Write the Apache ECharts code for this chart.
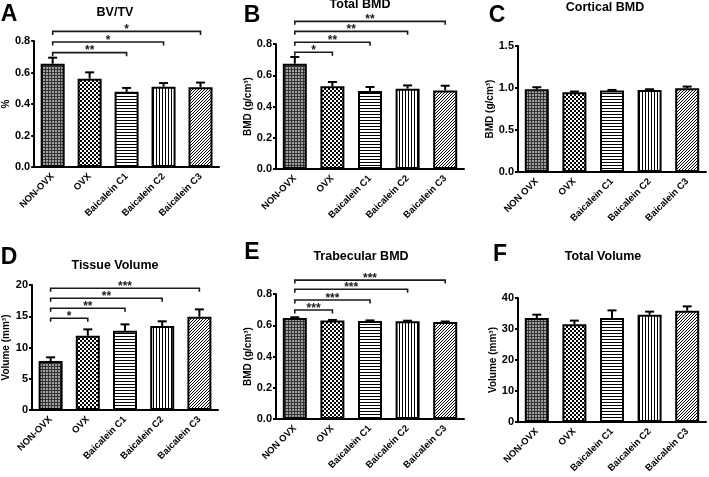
<!DOCTYPE html>
<html>
<head>
<meta charset="utf-8">
<script src="https://cdn.jsdelivr.net/npm/echarts@6/dist/echarts.min.js"></script>
<style>
    html, body { margin: 0; padding: 0; background: #fff; }
    #main { width: 709px; height: 477px; }
</style>
</head>
<body>
<div id="main"></div>
<script>
// groups
var groupsDash = ['NON-OVX', 'OVX', 'Baicalein C1', 'Baicalein C2', 'Baicalein C3']
var groupsSpace = ['NON OVX', 'OVX', 'Baicalein C1', 'Baicalein C2', 'Baicalein C3']

// A BV/TV
var bvtvMean = [0.656, 0.561, 0.477, 0.510, 0.507]
var bvtvErr = [0.038, 0.040, 0.025, 0.023, 0.029]
var bvtvSig = [[2, 0.726, '**'], [3, 0.794, '*'], [4, 0.861, '*']]

// B Total BMD
var totalBmdMean = [0.674, 0.529, 0.500, 0.514, 0.503]
var totalBmdErr = [0.043, 0.028, 0.025, 0.021, 0.030]
var totalBmdSig = [[1, 0.747, '*'], [2, 0.811, '**'], [3, 0.881, '**'], [4, 0.945, '**']]

// C Cortical BMD
var corticalMean = [0.985, 0.950, 0.970, 0.977, 0.997]
var corticalErr = [0.024, 0.008, 0.007, 0.008, 0.020]

// D Tissue Volume
var tissueMean = [7.84, 11.89, 12.69, 13.44, 14.93]
var tissueErr = [0.59, 1.01, 1.01, 0.75, 1.17]
var tissueSig = [[1, 14.67, '*'], [2, 16.27, '**'], [3, 17.87, '**'], [4, 19.47, '***']]

// E Trabecular BMD
var trabMean = [0.646, 0.630, 0.628, 0.626, 0.621]
var trabErr = [0.005, 0.004, 0.003, 0.003, 0.003]
var trabSig = [[1, 0.698, '***'], [2, 0.762, '***'], [3, 0.830, '***'], [4, 0.889, '***']]

// F Total Volume
var totalVolMean = [33.55, 31.5, 33.55, 34.62, 35.9]
var totalVolErr = [1.07, 1.2, 2.45, 0.98, 1.4]

var FONT = '"Liberation Sans", Arial, sans-serif'

function makePattern(w, h, paint) {
    var c = document.createElement('canvas')
    c.width = w
    c.height = h
    var ctx = c.getContext('2d')
    ctx.fillStyle = '#fff'
    ctx.fillRect(0, 0, w, h)
    ctx.fillStyle = '#000'
    paint(ctx)
    return { image: c, repeat: 'repeat' }
}

var patterns = [
    makePattern(3, 3, function (ctx) {
        ctx.fillStyle = '#a0a0a0'
        ctx.fillRect(0, 0, 3, 3)
        ctx.fillStyle = '#333'
        ctx.fillRect(0, 0, 3, 1)
        ctx.fillRect(0, 0, 1, 3)
    }),
    makePattern(4, 4, function (ctx) {
        ctx.fillRect(0, 0, 2, 2)
        ctx.fillRect(2, 2, 2, 2)
    }),
    makePattern(4, 3, function (ctx) {
        ctx.fillRect(0, 0, 4, 1)
    }),
    makePattern(3, 4, function (ctx) {
        ctx.fillRect(0, 0, 1, 4)
    }),
    makePattern(3, 3, function (ctx) {
        ctx.fillRect(2, 0, 1, 1)
        ctx.fillRect(1, 1, 1, 1)
        ctx.fillRect(0, 2, 1, 1)
    })
]

var panels = [
    { grid: { left: 31, top: 41, width: 188, height: 126 }, max: 0.8, interval: 0.2, dec: 1,
      name: '%', gap: 22, cats: groupsDash, mean: bvtvMean, err: bvtvErr, sig: bvtvSig,
      title: 'BV/TV', tx: 115, ty: 13, letter: 'A', lx: 9, ly: 15 },
    { grid: { left: 276, top: 44, width: 188, height: 125 }, max: 0.8, interval: 0.2, dec: 1,
      name: 'BMD (g/cm³)', gap: 23, cats: groupsDash, mean: totalBmdMean, err: totalBmdErr, sig: totalBmdSig,
      title: 'Total BMD', tx: 360, ty: 5, letter: 'B', lx: 252, ly: 16 },
    { grid: { left: 518, top: 46, width: 188, height: 126 }, max: 1.5, interval: 0.5, dec: 1,
      name: 'BMD (g/cm³)', gap: 21, cats: groupsSpace, mean: corticalMean, err: corticalErr, sig: [],
      title: 'Cortical BMD', tx: 605, ty: 8, letter: 'C', lx: 497, ly: 16 },
    { grid: { left: 30, top: 285, width: 188, height: 125 }, max: 20, interval: 5, dec: 0,
      name: 'Volume (mm³)', gap: 21, cats: groupsDash, mean: tissueMean, err: tissueErr, sig: tissueSig,
      title: 'Tissue Volume', tx: 115, ty: 266, letter: 'D', lx: 9, ly: 258 },
    { grid: { left: 276, top: 294, width: 188, height: 125 }, max: 0.8, interval: 0.2, dec: 1,
      name: 'BMD (g/cm³)', gap: 23, cats: groupsSpace, mean: trabMean, err: trabErr, sig: trabSig,
      title: 'Trabecular BMD', tx: 361, ty: 257, letter: 'E', lx: 252, ly: 253 },
    { grid: { left: 518, top: 298, width: 188, height: 124 }, max: 40, interval: 10, dec: 0,
      name: 'Volume (mm³)', gap: 20, cats: groupsDash, mean: totalVolMean, err: totalVolErr, sig: [],
      title: 'Total Volume', tx: 603, ty: 257, letter: 'F', lx: 500, ly: 255 }
]

function errorBarItem(params, api) {
    var i = api.value(0)
    var base = api.coord([i, api.value(1)])
    var top = api.coord([i, api.value(1) + api.value(2)])
    return {
        type: 'group',
        children: [
            { type: 'line', shape: { x1: base[0], y1: base[1], x2: top[0], y2: top[1] },
              style: { stroke: '#000', lineWidth: 2 } },
            { type: 'line', shape: { x1: top[0] - 4.5, y1: top[1], x2: top[0] + 4.5, y2: top[1] },
              style: { stroke: '#000', lineWidth: 2 } }
        ]
    }
}

function bracketItem(labels) {
    return function (params, api) {
        var a = api.coord([api.value(0), api.value(2)])
        var b = api.coord([api.value(1), api.value(2)])
        return {
            type: 'group',
            children: [
                { type: 'polyline',
                  shape: { points: [[a[0], a[1] + 3.5], [a[0], a[1]], [b[0], b[1]], [b[0], b[1] + 3.5]] },
                  style: { stroke: '#1a1a1a', lineWidth: 1.6, fill: null } },
                { type: 'text', x: (a[0] + b[0]) / 2, y: a[1] - 1.5,
                  style: { text: labels[params.dataIndex], fill: '#1a1a1a', font: 'bold 12px ' + FONT,
                           align: 'center', verticalAlign: 'middle',
                           textAlign: 'center', textVerticalAlign: 'middle' } }
            ]
        }
    }
}

var option = { animation: false, grid: [], xAxis: [], yAxis: [], series: [], graphic: [] }

panels.forEach(function (p, k) {
    option.grid.push(p.grid)
    option.xAxis.push({
        type: 'category', gridIndex: k, data: p.cats,
        axisLine: { lineStyle: { color: '#000', width: 2 } },
        axisTick: { alignWithLabel: true, length: 4, lineStyle: { color: '#000', width: 2 } },
        axisLabel: { interval: 0, rotate: 45, margin: 8, color: '#000', fontWeight: 'bold',
                     fontSize: 9.5, fontFamily: FONT }
    })
    option.yAxis.push({
        type: 'value', gridIndex: k, min: 0, max: p.max, interval: p.interval,
        name: p.name, nameLocation: 'middle', nameGap: p.gap,
        nameTextStyle: { color: '#000', fontWeight: 'bold', fontSize: 10, fontFamily: FONT },
        axisLine: { show: true, lineStyle: { color: '#000', width: 2 } },
        axisTick: { show: true, length: 3, lineStyle: { color: '#000', width: 2 } },
        splitLine: { show: false },
        axisLabel: { margin: 4, color: '#000', fontWeight: 'bold', fontSize: 11, fontFamily: FONT,
                     formatter: function (v) { return v.toFixed(p.dec) } }
    })
    option.series.push({
        type: 'bar', xAxisIndex: k, yAxisIndex: k, barWidth: 24,
        data: p.mean.map(function (v, i) {
            return { value: v, itemStyle: { color: patterns[i], borderColor: '#000', borderWidth: 2 } }
        })
    })
    option.series.push({
        type: 'custom', xAxisIndex: k, yAxisIndex: k, z: 5, clip: false,
        renderItem: errorBarItem,
        encode: { x: 0, y: 1 },
        data: p.mean.map(function (v, i) { return [i, v, p.err[i]] })
    })
    if (p.sig.length) {
        option.series.push({
            type: 'custom', xAxisIndex: k, yAxisIndex: k, z: 5, clip: false,
            renderItem: bracketItem(p.sig.map(function (s) { return s[2] })),
            encode: { x: [0, 1], y: 2 },
            data: p.sig.map(function (s) { return [0, s[0], s[1]] })
        })
    }
    option.graphic.push({
        type: 'text', x: p.tx, y: p.ty,
        style: { text: p.title, fill: '#000', font: 'bold 12.5px ' + FONT,
                 align: 'center', verticalAlign: 'middle', textAlign: 'center', textVerticalAlign: 'middle' }
    })
    option.graphic.push({
        type: 'text', x: p.lx, y: p.ly,
        style: { text: p.letter, fill: '#000', font: 'bold 23px ' + FONT,
                 align: 'center', verticalAlign: 'middle', textAlign: 'center', textVerticalAlign: 'middle' }
    })
})

var chart = echarts.init(document.getElementById('main'))
chart.setOption(option)
</script>
</body>
</html>
